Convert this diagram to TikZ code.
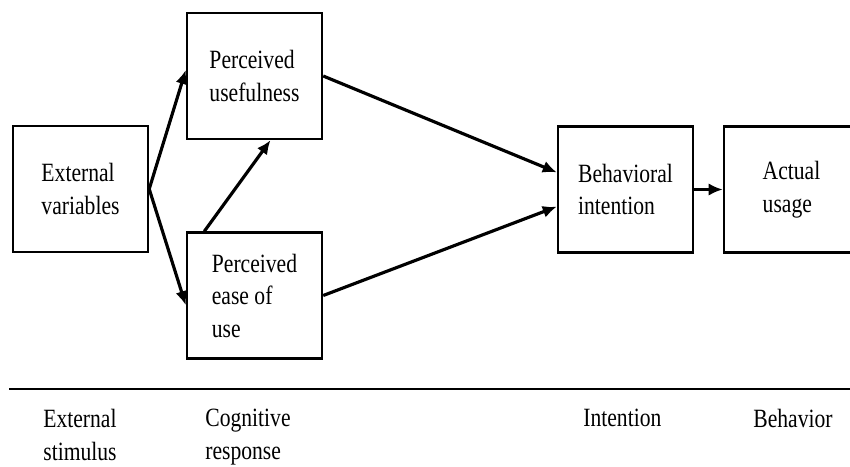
\documentclass[tikz,border=0pt]{standalone}
\usepackage{fontspec}
\setmainfont[FakeStretch=0.82]{Liberation Serif}
\usepackage{tikz}
\usetikzlibrary{arrows.meta}

\begin{document}
\begin{tikzpicture}[x=0.02cm, y=-0.02cm,
  box/.style={rectangle, draw, line width=1.4pt, minimum width=2.7cm, minimum height=2.52cm, align=left, font=\fontsize{15}{18.5}\selectfont},
  arr/.style={-{Latex[length=8pt, width=7pt]}, line width=1.8pt},
  stage/.style={anchor=north west, inner sep=0pt, align=left, font=\fontsize{15}{18.5}\selectfont},
]
  \clip (0,0) rectangle (850,467);

  % Boxes
  \node[box] (ext) at (80.5,189) {External\\variables};
  \node[box] (pu) at (254.5,76) {Perceived\\usefulness};
  \node[box] (peou) at (254.5,295.5) {Perceived\\ease of\\use};
  \node[box] (bi) at (625.5,189.5) {Behavioral\\intention};
  \node[box] (au) at (791.5,189.5) {Actual\\usage};

  % Arrows
  \draw[arr] (ext.east) -- (pu.175);
  \draw[arr] (ext.east) -- (peou.188);
  \draw[arr] (peou.128) -- (pu.284);
  \draw[arr] (pu.east) -- (bi.166);
  \draw[arr] (peou.east) -- (bi.194);
  \draw[arr] (bi) -- (au);

  % Stages
  \draw[line width=1.5pt] (9,389) -- (850,389);
  \node[stage] (st1) at (43,409) {External\\stimulus};
  \node[stage] (st2) at (205,409) {Cognitive\\response};
  \node[stage] (st3) at (583,409) {Intention};
  \node[stage] (st4) at (753,409) {Behavior};
\end{tikzpicture}
\end{document}
